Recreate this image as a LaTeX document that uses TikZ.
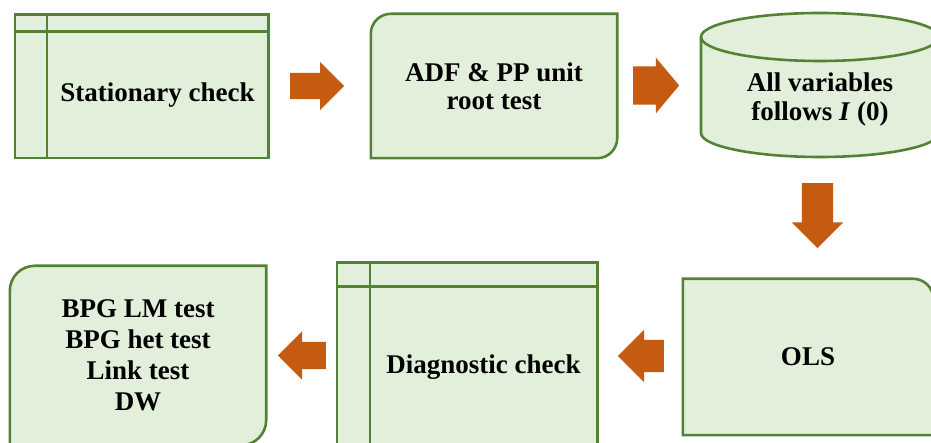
\documentclass[tikz,border=0pt]{standalone}
\usepackage{fontspec}
\setmainfont{Liberation Serif}
\usetikzlibrary{shapes.arrows, backgrounds, calc}

\definecolor{boxgreen}{HTML}{E2EFDA}
\definecolor{edgegreen}{HTML}{548235}
\definecolor{arrorange}{HTML}{C55A11}

\begin{document}
\begin{tikzpicture}[
            x=1pt, y=1pt,
            font=\fontsize{27}{28}\selectfont\bfseries,
            boxline/.style ={draw=edgegreen, line width=2.6pt, fill=boxgreen},
            divline/.style ={draw=edgegreen, line width=2.6pt},
            txt/.style     ={inner sep=0pt, align=center},
            barrow/.style  ={shape=single arrow, fill=arrorange, draw=none,
                             inner sep=0pt, anchor=tail}
        ]
        \useasboundingbox (0,0) rectangle (931,443);

        % text nodes; the box outlines go on the background layer
        \node[txt, minimum width=221, minimum height=126] (stat) at (157.5,348) {Stationary check};
        \node[txt, minimum width=246, minimum height=144] (adf)  at (494,357) {ADF \& PP unit\\root test};
        \node[txt, font=\fontsize{27}{29}\selectfont\bfseries] (allvar) at (820,343)
              {All variables\\follows \textit{I} (0)};
        \node[txt, minimum width=250, minimum height=156] (ols)  at (808,86) {OLS};
        \node[txt, minimum width=227, minimum height=160] (diag) at (483.5,76) {Diagnostic check};
        \node[txt, minimum width=256, minimum height=179,
              font=\fontsize{27}{31}\selectfont\bfseries] (bpg) at (138,87.5)
              {BPG LM test\\BPG het test\\Link test\\DW};

        \begin{scope}[on background layer]
            % storage boxes with a header strip and a side strip
            \path[boxline] ([xshift=-32]stat.south west) rectangle ([yshift=17]stat.north east);
            \draw[divline] ([xshift=-32]stat.north west) -- (stat.north east)
                           (stat.south west) -- ([yshift=17]stat.north west);
            \path[boxline] ([xshift=-33]diag.south west) rectangle ([yshift=24]diag.north east);
            \draw[divline] ([xshift=-33]diag.north west) -- (diag.north east)
                           (diag.south west) -- ([yshift=24]diag.north west);

            % boxes with two opposite rounded corners
            \path[boxline] (adf.south west) -- ([yshift=-20]adf.north west)
                arc[start angle=180, end angle=90, radius=20] -- (adf.north east)
                -- ([yshift=20]adf.south east)
                arc[start angle=0, end angle=-90, radius=20] -- cycle;
            \path[boxline] (bpg.south west) -- ([yshift=-25]bpg.north west)
                arc[start angle=180, end angle=90, radius=25] -- (bpg.north east)
                -- ([yshift=25]bpg.south east)
                arc[start angle=0, end angle=-90, radius=25] -- cycle;

            % one rounded corner
            \path[boxline] (ols.south west) -- (ols.north west)
                -- ([xshift=-20]ols.north east)
                arc[start angle=90, end angle=0, radius=20] -- (ols.south east) -- cycle;

            % cylinder
            \path[boxline] (701,406) -- (701,310)
                arc[start angle=180, end angle=360, x radius=119, y radius=24]
                -- (939,406)
                arc[start angle=0, end angle=180, x radius=119, y radius=24] -- cycle;
            \draw[divline] (701,406)
                arc[start angle=180, end angle=360, x radius=119, y radius=24];
        \end{scope}

        % block arrows, placed by their tails
        \node[barrow, minimum height=54, inner ysep=13, single arrow head extend=11] (a1) at (290,357) {};
        \node[barrow, minimum height=46, inner ysep=19, single arrow head extend=8.5,
              single arrow tip angle=100] (a2) at (633,357.5) {};
        \node[barrow, minimum height=65, inner xsep=15.5, single arrow head extend=10,
              shape border rotate=270] (a3) at (817.5,260) {};
        \node[barrow, minimum height=46, inner ysep=16, single arrow head extend=10,
              shape border rotate=180] (a4) at (664,87) {};
        \node[barrow, minimum height=48, inner ysep=13.5, single arrow head extend=10.5,
              shape border rotate=180] (a5) at (326,87.5) {};

    \end{tikzpicture}
\end{document}
